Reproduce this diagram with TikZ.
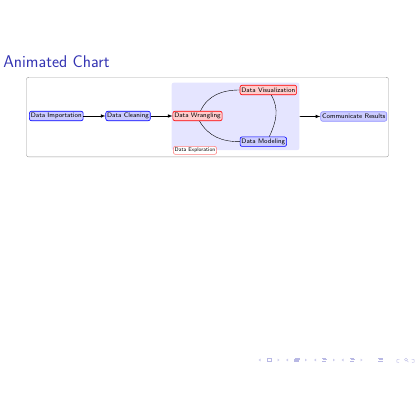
\documentclass[tikz,border=0pt]{standalone}
\usetikzlibrary{positioning,arrows}
\definecolor{structblue}{rgb}{0.2,0.2,0.7}
\colorlet{navcol}{structblue!35}

\begin{document}
\begin{tikzpicture}[x=1pt,y=1pt,>=latex,semithick,node distance=22pt,
  stage node/.style={rectangle,rounded corners=2pt,draw,inner sep=1.4pt,minimum height=9.5pt,font=\sffamily\fontsize{6.6}{7}\selectfont},
  blue node/.style={stage node,draw=blue,fill=blue!20},
  red node/.style={stage node,draw=red,fill=red!20}]

  \useasboundingbox (0,0) rectangle (420,420);

  \node[anchor=base west,inner sep=0,text=structblue,font=\sffamily\fontsize{17}{19}\selectfont] (title) at (3,352.5) {Animated Chart};

  % frame and exploration area
  \node[draw=gray!80,thin,rounded corners=2pt,minimum width=362pt,minimum height=79.5pt] (frame) at (207.5,302.9) {};
  \draw[gray!25,line width=1.3pt] ([xshift=2.5pt,yshift=-0.4pt]frame.north west) -- ([xshift=-2.5pt,yshift=-0.4pt]frame.north east);
  \node[fill=blue!10,rounded corners=2pt,minimum width=127.6pt,minimum height=67.3pt] (area) at (235.5,303.6) {};

  \node[blue node] (imp) at (56.3,304) {Data Importation};
  \node[blue node] (cle) [right=of imp] {Data Cleaning};
  \node[red node] (wra) [right=of cle] {Data Wrangling};
  \node[red node] (vis) at (268.3,330) {Data Visualization};
  \node[blue node] (mod) at (263.3,278.3) {Data Modeling};
  \node[stage node,draw=red!50,fill=white,inner sep=1.2pt,minimum height=8pt,font=\sffamily\fontsize{5.4}{6}\selectfont] (exp) at (195,269.6) {Data Exploration};
  \node[stage node,draw=blue!45,fill=blue!20] (com) at (353.7,303.5) {Communicate Results};

  \path[->]
    (imp) edge (cle)
    (cle) edge (wra)
    (area) edge (com);

  \draw[thin] (wra.north) ++(3pt,0) to[out=65,in=180] (vis.west);
  \draw[thin] (vis.south) ++(3pt,0) to[out=-60,in=65] ([xshift=6pt]mod.north);
  \draw[thin] (mod.west) to[out=180,in=-60] ([xshift=2pt]wra.south);

  % navigation symbols
  \foreach \c in {269,296.5,324.5,352}{
    \fill[navcol!70] (\c-8.5,58.6) -- (\c-10.5,60) -- (\c-8.5,61.4) -- cycle;
    \fill[navcol!70] (\c+8.5,58.6) -- (\c+10.5,60) -- (\c+8.5,61.4) -- cycle;
  }
  \draw[navcol,thin] (266.8,58.5) rectangle (271,61.5);
  \fill[navcol] (293.5,57.8) rectangle (298.5,61);
  \fill[navcol] (295,59.5) rectangle (299.5,62.3);
  \foreach \c in {324.2,352.2,380.5}{
    \fill[navcol] (\c-2.2,61.2) rectangle (\c+2.2,62.2);
    \fill[navcol] (\c-1.5,59.5) rectangle (\c+2.4,60.6);
    \fill[navcol] (\c-2.2,57.8) rectangle (\c+2.2,58.9);
  }
  \draw[navcol,thin] (399.5,60.2) arc (40:300:1.8);
  \draw[navcol,thin] (406,60.4) circle (1.5) (407,59.3) -- (408.4,57.9);
  \draw[navcol,thin] (411.5,60.2) arc (140:-120:1.8);
\end{tikzpicture}
\end{document}
